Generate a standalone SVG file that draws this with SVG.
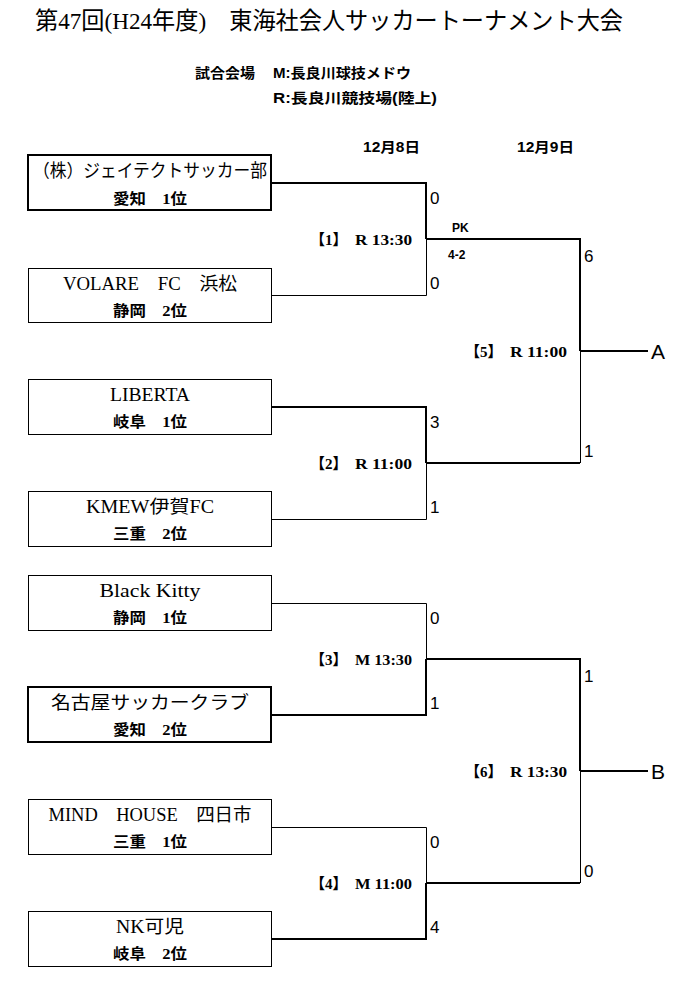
<svg xmlns="http://www.w3.org/2000/svg" width="679" height="986" viewBox="0 0 679 986">
<style>
.bg{fill:#fff}
.box{fill:#fff;stroke:#000;stroke-width:1}
.box.win{stroke-width:2}
.thin{stroke:#000;stroke-width:1;fill:none}
.thick{stroke:#000;stroke-width:2;fill:none}
.title{font-family:"Liberation Serif","Noto Sans CJK JP",serif;font-size:24px;fill:#000}
.venue{font-family:"Liberation Sans","Noto Sans CJK JP",sans-serif;font-size:14px;font-weight:bold;fill:#000}
.date{font-family:"Liberation Sans","Noto Sans CJK JP",sans-serif;font-size:14px;font-weight:bold;fill:#000}
.name{font-family:"Liberation Serif","Noto Sans CJK JP",serif;font-size:18px;fill:#000;text-anchor:middle}
.sub{font-family:"Liberation Serif","Noto Sans CJK JP",serif;font-size:15px;font-weight:bold;fill:#000;text-anchor:middle}
.score{font-family:"Liberation Sans",sans-serif;font-size:17px;fill:#000}
.lbl{font-family:"Liberation Serif","Noto Sans CJK JP",serif;font-size:15px;font-weight:bold;fill:#000}
.pk{font-family:"Liberation Sans",sans-serif;font-size:12px;font-weight:bold;fill:#000}
.end{font-family:"Liberation Sans",sans-serif;font-size:21px;fill:#000}
</style>
<rect class="bg" x="0" y="0" width="679" height="986"/>
<text class="title" x="35" y="29" textLength="588" lengthAdjust="spacingAndGlyphs">第47回(H24年度)　東海社会人サッカートーナメント大会</text>
<g id="venue">
<text class="venue" x="195" y="78" textLength="60" lengthAdjust="spacingAndGlyphs">試合会場</text>
<text class="venue" x="273" y="78" textLength="138" lengthAdjust="spacingAndGlyphs">M:長良川球技メドウ</text>
<text class="venue" x="273" y="103" textLength="164" lengthAdjust="spacingAndGlyphs">R:長良川競技場(陸上)</text>
</g>
<g id="dates">
<text class="date" x="363" y="152" textLength="57" lengthAdjust="spacingAndGlyphs">12月8日</text>
<text class="date" x="517" y="152" textLength="57" lengthAdjust="spacingAndGlyphs">12月9日</text>
</g>

<g id="team1"><rect class="box win" x="28" y="155" width="243" height="55"/><text class="name" x="150" y="177" textLength="234" lengthAdjust="spacingAndGlyphs">（株）ジェイテクトサッカー部</text><text class="sub" x="150" y="204" textLength="74" lengthAdjust="spacingAndGlyphs">愛知　1位</text></g>
<g id="team2"><rect class="box" x="28.5" y="268.5" width="243" height="54"/><text class="name" x="150" y="290" textLength="174" lengthAdjust="spacingAndGlyphs">VOLARE　FC　浜松</text><text class="sub" x="150" y="316" textLength="74" lengthAdjust="spacingAndGlyphs">静岡　2位</text></g>
<g id="team3"><rect class="box" x="28.5" y="379.5" width="243" height="55"/><text class="name" x="150" y="401" textLength="80" lengthAdjust="spacingAndGlyphs">LIBERTA</text><text class="sub" x="150" y="427" textLength="74" lengthAdjust="spacingAndGlyphs">岐阜　1位</text></g>
<g id="team4"><rect class="box" x="28.5" y="491.5" width="243" height="55"/><text class="name" x="150" y="513" textLength="128" lengthAdjust="spacingAndGlyphs">KMEW伊賀FC</text><text class="sub" x="150" y="539" textLength="74" lengthAdjust="spacingAndGlyphs">三重　2位</text></g>
<g id="team5"><rect class="box" x="28.5" y="575.5" width="243" height="55"/><text class="name" x="150" y="597" textLength="101" lengthAdjust="spacingAndGlyphs">Black Kitty</text><text class="sub" x="150" y="623" textLength="74" lengthAdjust="spacingAndGlyphs">静岡　1位</text></g>
<g id="team6"><rect class="box win" x="28" y="687" width="243" height="55"/><text class="name" x="150" y="709" textLength="198" lengthAdjust="spacingAndGlyphs">名古屋サッカークラブ</text><text class="sub" x="150" y="735" textLength="74" lengthAdjust="spacingAndGlyphs">愛知　2位</text></g>
<g id="team7"><rect class="box" x="28.5" y="799.5" width="243" height="55"/><text class="name" x="150" y="821" textLength="203" lengthAdjust="spacingAndGlyphs">MIND　HOUSE　四日市</text><text class="sub" x="150" y="847" textLength="74" lengthAdjust="spacingAndGlyphs">三重　1位</text></g>
<g id="team8"><rect class="box" x="28.5" y="911.5" width="243" height="55"/><text class="name" x="150" y="933" textLength="68" lengthAdjust="spacingAndGlyphs">NK可児</text><text class="sub" x="150" y="959" textLength="74" lengthAdjust="spacingAndGlyphs">岐阜　2位</text></g>

<g id="connectors">
<polyline class="thick" points="271,183 426,183 426,239"/>
<polyline class="thin" points="271,295.5 426.5,295.5 426.5,239"/>
<polyline class="thick" points="271,407 426,407 426,463"/>
<polyline class="thin" points="271,519.5 426.5,519.5 426.5,463"/>
<polyline class="thick" points="426,239 580,239 580,351"/>
<line class="thick" x1="426" y1="463" x2="580" y2="463"/>
<line class="thin" x1="580.5" y1="351" x2="580.5" y2="463"/>
<line class="thick" x1="580" y1="351" x2="648" y2="351"/>
<polyline class="thin" points="271,603.5 426.5,603.5 426.5,659"/>
<polyline class="thick" points="271,715 426,715 426,659"/>
<polyline class="thin" points="271,827.5 426.5,827.5 426.5,883"/>
<polyline class="thick" points="271,939 426,939 426,883"/>
<polyline class="thick" points="426,659 580,659 580,771"/>
<line class="thick" x1="426" y1="883" x2="580" y2="883"/>
<line class="thin" x1="580.5" y1="771" x2="580.5" y2="883"/>
<line class="thick" x1="580" y1="771" x2="648" y2="771"/>
</g>

<g id="scores">
<text class="score" x="430" y="204">0</text>
<text class="score" x="430" y="289">0</text>
<text class="score" x="430" y="428">3</text>
<text class="score" x="430" y="513">1</text>
<text class="score" x="430" y="624">0</text>
<text class="score" x="430" y="709">1</text>
<text class="score" x="430" y="848">0</text>
<text class="score" x="430" y="933">4</text>
<text class="score" x="584" y="262">6</text>
<text class="score" x="584" y="457">1</text>
<text class="score" x="584" y="682">1</text>
<text class="score" x="584" y="877">0</text>
<text class="pk" x="452" y="232">PK</text>
<text class="pk" x="448" y="259">4-2</text>
</g>

<g id="labels">
<text class="lbl" x="310" y="245">【1】</text><text class="lbl" x="355" y="245" textLength="57" lengthAdjust="spacingAndGlyphs">R 13:30</text>
<text class="lbl" x="310" y="469">【2】</text><text class="lbl" x="355" y="469" textLength="57" lengthAdjust="spacingAndGlyphs">R 11:00</text>
<text class="lbl" x="310" y="665">【3】</text><text class="lbl" x="355" y="665" textLength="57" lengthAdjust="spacingAndGlyphs">M 13:30</text>
<text class="lbl" x="310" y="889">【4】</text><text class="lbl" x="355" y="889" textLength="57" lengthAdjust="spacingAndGlyphs">M 11:00</text>
<text class="lbl" x="465" y="357">【5】</text><text class="lbl" x="510" y="357" textLength="57" lengthAdjust="spacingAndGlyphs">R 11:00</text>
<text class="lbl" x="465" y="777">【6】</text><text class="lbl" x="510" y="777" textLength="57" lengthAdjust="spacingAndGlyphs">R 13:30</text>
</g>

<g id="ends">
<text class="end" x="651" y="359">A</text>
<text class="end" x="651" y="779">B</text>
</g>
</svg>
